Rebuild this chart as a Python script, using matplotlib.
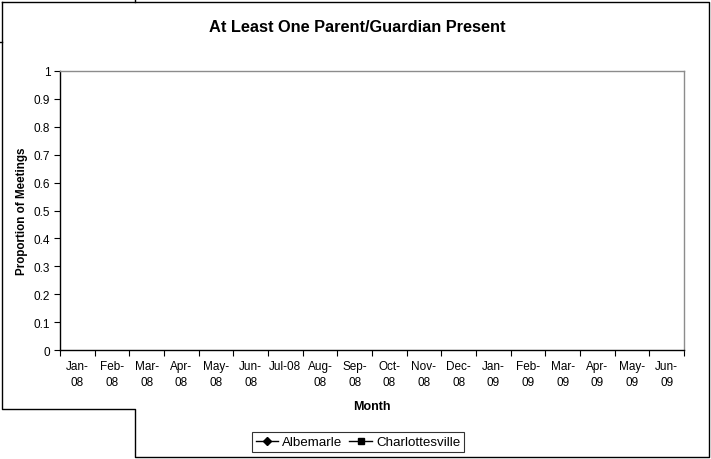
import numpy as np
import matplotlib
matplotlib.use('Agg')
import matplotlib.pyplot as plt
from matplotlib.lines import Line2D

plt.rcParams['font.family'] = ['Liberation Sans', 'DejaVu Sans']

# months on the category axis
months = ['Jan-\n08', 'Feb-\n08', 'Mar-\n08', 'Apr-\n08', 'May-\n08', 'Jun-\n08',
          'Jul-08', 'Aug-\n08', 'Sep-\n08', 'Oct-\n08', 'Nov-\n08', 'Dec-\n08',
          'Jan-\n09', 'Feb-\n09', 'Mar-\n09', 'Apr-\n09', 'May-\n09', 'Jun-\n09']

# the reference chart has no plotted values, both series are blank
albemarle = [np.nan, np.nan, np.nan, np.nan, np.nan, np.nan, np.nan, np.nan, np.nan,
             np.nan, np.nan, np.nan, np.nan, np.nan, np.nan, np.nan, np.nan, np.nan]
charlottesville = [np.nan, np.nan, np.nan, np.nan, np.nan, np.nan, np.nan, np.nan, np.nan,
                   np.nan, np.nan, np.nan, np.nan, np.nan, np.nan, np.nan, np.nan, np.nan]

y_ticks = [0, 0.1, 0.2, 0.3, 0.4, 0.5, 0.6, 0.7, 0.8, 0.9, 1]
y_labels = ['0', '0.1', '0.2', '0.3', '0.4', '0.5', '0.6', '0.7', '0.8', '0.9', '1']

W, H = 711, 460
fig = plt.figure(figsize=(W / 100, H / 100), dpi=100)


def fx(px):
    return px / W


def fy(py):
    return 1 - py / H


ax = fig.add_axes([fx(60), fy(351), fx(684) - fx(60), fy(72) - fy(351)])
x = np.arange(len(months))
ax.plot(x, albemarle, '-D', color='black', markersize=4, lw=1)
ax.plot(x, charlottesville, '-s', color='black', markersize=4, lw=1)

ax.set_xlim(-0.5, len(months) - 0.5)
ax.set_ylim(0, 1)

# tick marks between categories, labels centred on them
ax.set_xticks(np.arange(-0.5, len(months), 1))
ax.set_xticklabels([])
ax.set_xticks(x, minor=True)
ax.set_xticklabels(months, minor=True, fontsize=8.5, linespacing=1.5)
ax.tick_params(axis='x', which='major', length=4, width=0.8, direction='out')
ax.tick_params(axis='x', which='minor', length=0, pad=7)

ax.set_yticks(y_ticks)
ax.set_yticklabels(y_labels, fontsize=8.5)
ax.tick_params(axis='y', length=4, width=0.8, direction='out', pad=3)

for s in ['top', 'right']:
    ax.spines[s].set_color('#8c8c8c')
    ax.spines[s].set_linewidth(1)
for s in ['left', 'bottom']:
    ax.spines[s].set_color('black')
    ax.spines[s].set_linewidth(1)

fig.text(fx(357), fy(28), 'At Least One Parent/Guardian Present', ha='center', va='center',
         fontsize=11.8, fontweight='bold')
fig.text(fx(22), fy(211), 'Proportion of Meetings', ha='center', va='center',
         rotation=90, fontsize=8.4, fontweight='bold')
fig.text(fx(372), fy(407), 'Month', ha='center', va='center',
         fontsize=9, fontweight='bold')

handles = [Line2D([], [], color='black', lw=1, marker='D', markersize=4.5),
           Line2D([], [], color='black', lw=1, marker='s', markersize=4.5)]
leg = fig.legend(handles, ['Albemarle', 'Charlottesville'], loc='center',
                 bbox_to_anchor=(fx(358), fy(443)), ncol=2, fontsize=9.6,
                 frameon=True, fancybox=False, handlelength=1.7, handletextpad=0.3,
                 columnspacing=0.5, borderpad=0.3, borderaxespad=0)
leg.get_frame().set_edgecolor('black')
leg.get_frame().set_linewidth(0.8)

# outer chart border with the notch on the lower left
bx = [2, 709, 709, 135, 135, 2, 2]
by = [3, 3, 458, 458, 410, 410, 3]
fig.add_artist(Line2D([fx(v) for v in bx], [fy(v) for v in by], color='black', lw=1))
fig.add_artist(Line2D([fx(135), fx(135)], [fy(0), fy(3)], color='black', lw=1))
fig.add_artist(Line2D([fx(0), fx(2)], [fy(43), fy(43)], color='black', lw=1))

fig.savefig('out.png', dpi=100)
